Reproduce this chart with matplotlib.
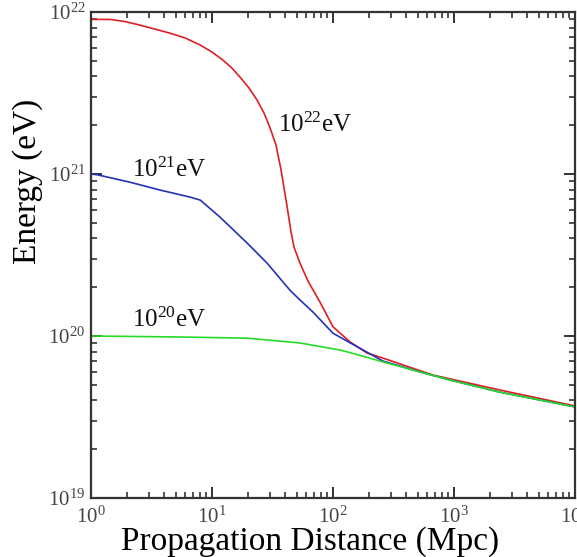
import numpy as np
import matplotlib
matplotlib.use("Agg")
import matplotlib.pyplot as plt

plt.rcParams["font.family"] = "Liberation Serif"
plt.rcParams["mathtext.fontset"] = "custom"
plt.rcParams["mathtext.rm"] = "Liberation Serif"
plt.rcParams["mathtext.it"] = "Liberation Serif:italic"

# -----------------------------
# Energy vs propagation distance
# -----------------------------
dist_22 = [1.0, 1.44, 1.91, 2.54, 4.5, 5.98, 8.0, 10.0, 12.3, 14.6, 17.0, 20.2,
           23.5, 26.9, 30.0, 33.8, 37.2, 40.9, 45.0, 47.6, 53.3, 62.0, 78.0,
           100.0, 138.0, 191.0, 259.0, 670.0, 2400.0, 10000.0]
energy_22 = [9.0e21, 9.0e21, 8.73e21, 8.3e21, 7.4e21, 6.92e21, 6.25e21, 5.66e21,
             5.05e21, 4.51e21, 3.97e21, 3.4e21, 2.87e21, 2.38e21, 1.95e21, 1.51e21,
             1.06e21, 6.92e20, 4.39e20, 3.54e20, 2.82e20, 2.19e20, 1.62e20,
             1.14e20, 9.2e19, 7.85e19, 7.3e19, 5.74e19, 4.64e19, 3.7e19]

dist_21 = [1.0, 1.12, 2.1, 3.72, 6.6, 8.0, 11.6, 19.5, 28.5, 44.0, 53.3, 68.0,
           100.0, 167.0, 259.0, 524.0, 927.0, 2400.0, 10000.0]
energy_21 = [1.0e21, 9.9e20, 8.9e20, 7.96e20, 7.2e20, 6.9e20, 5.43e20, 3.75e20,
             2.82e20, 1.92e20, 1.67e20, 1.41e20, 1.04e20, 8.4e19, 7.0e19, 6.0e19,
             5.35e19, 4.5e19, 3.65e19]

dist_20 = [1.0, 5.4, 19.5, 53.0, 114.0, 138.0, 259.0, 524.0, 927.0, 2400.0, 10000.0]
energy_20 = [1.0e20, 9.86e19, 9.7e19, 9.06e19, 8.2e19, 7.9e19, 6.92e19, 6.0e19,
             5.35e19, 4.5e19, 3.65e19]

labels = [r"$10^{22}$eV", r"$10^{21}$eV", r"$10^{20}$eV"]
label_x = [35.0, 2.18, 2.2]
label_y = [1.82e21, 9.57e20, 1.14e20]

fig = plt.figure(figsize=(5.77, 5.57), dpi=100)
ax = fig.add_axes([91 / 577, 1 - 498 / 557, 484 / 577, 486 / 557])

ax.plot(dist_22, energy_22, color="#dd1f26", lw=1.2)
ax.plot(dist_21, energy_21, color="#2431b8", lw=1.2)
ax.plot(dist_20, energy_20, color="#27dc27", lw=1.2)

for txt, lx, ly in zip(labels, label_x, label_y):
    ax.text(lx, ly, txt, fontsize=18, ha="left", va="baseline", color="#111111")

ax.set_xscale("log")
ax.set_yscale("log")
ax.set_xlim(1, 1e4)
ax.set_ylim(1e19, 1e22)

ax.tick_params(which="both", direction="in", top=True, right=True,
               colors="#333333", labelcolor="#444444", labelsize=15)
ax.tick_params(which="major", length=8, width=1.4, pad=4)
ax.tick_params(axis="x", which="major", pad=6)
ax.tick_params(which="minor", length=4.5, width=1.2)
for sp in ax.spines.values():
    sp.set_linewidth(1.6)
    sp.set_color("#333333")

ax.set_xlabel("Propagation Distance (Mpc)", fontsize=24, va="center")
ax.set_ylabel("Energy (eV)", fontsize=24, va="center")
ax.xaxis.set_label_coords(0.452, -0.09)
ax.yaxis.set_label_coords(-0.13, 0.652)

fig.savefig("out.png", dpi=100)
